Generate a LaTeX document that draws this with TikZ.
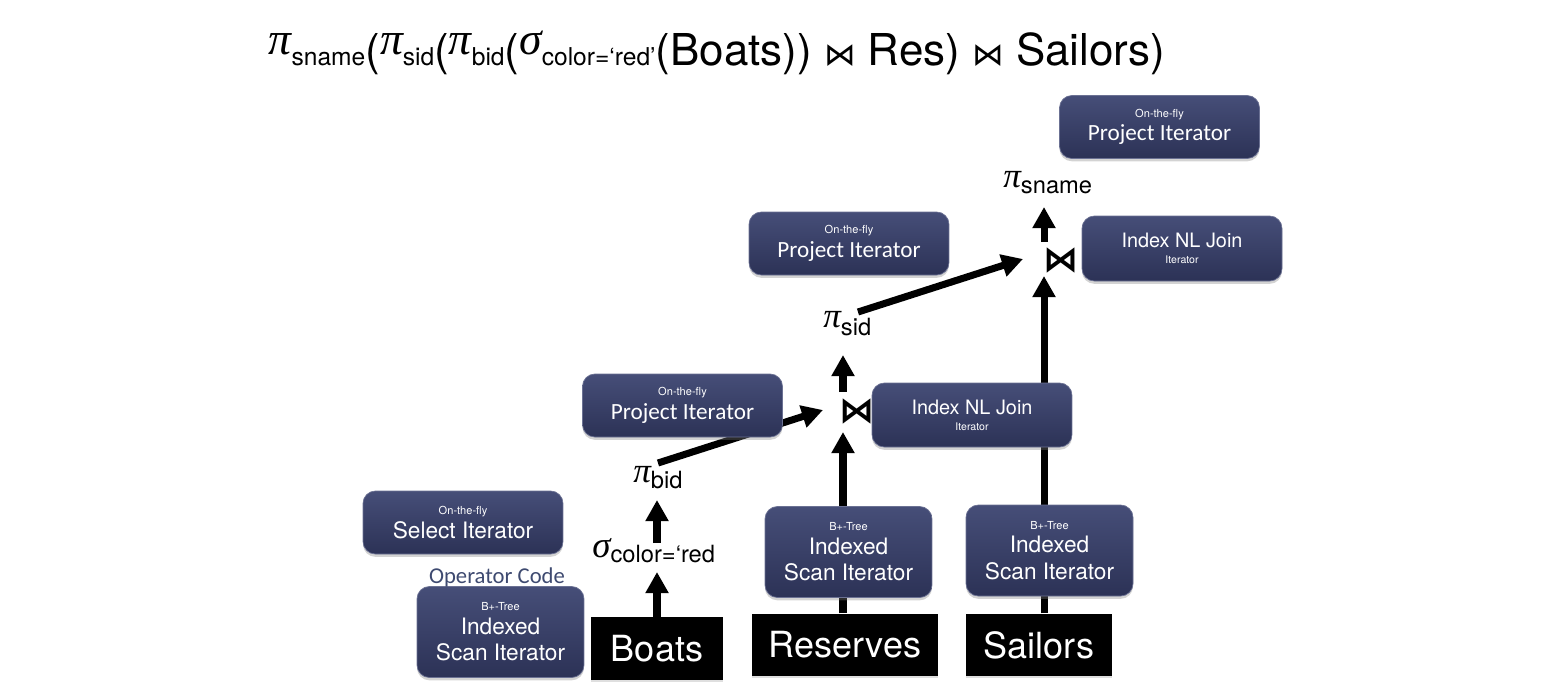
\documentclass[tikz,border=0pt]{standalone}
\usepackage{fontspec}
\setmainfont{TeX Gyre Heros}
\newfontfamily\carl{Carlito}
\newfontfamily\djv{DejaVu Sans}
\newfontfamily\grk{Liberation Serif}
\usetikzlibrary{arrows.meta,shadows}
\pgfdeclarelayer{background}
\pgfsetlayers{background,main}
\definecolor{boxtop}{RGB}{70,78,120}
\definecolor{boxbot}{RGB}{44,50,86}
\definecolor{opcode}{RGB}{62,74,112}
\newcommand\smtxt[1]{{\fontsize{6.3}{7}\selectfont #1}}
\newcommand\bigtxt[1]{{\fontsize{12.9}{15}\selectfont #1}}
\newcommand\jtxt[1]{{\fontsize{11.3}{12}\selectfont #1}}
\newcommand\cbtxt[1]{{\carl\fontsize{13.2}{15}\selectfont #1}}
\newcommand\gsym[3]{{\grk\itshape\fontsize{#1}{#1}\selectfont\raisebox{#2}{#3}}}
\newcommand\subt[1]{{\fontsize{13.5}{14}\selectfont #1}}
\newcommand\tsub[1]{{\fontsize{14}{14}\selectfont #1}}
\begin{document}
\begin{tikzpicture}[x=0.02cm,y=-0.02cm,
  iter/.style={rounded corners=7pt, top color=boxtop, bottom color=boxbot,
    draw=boxtop!80!white, line width=0.4pt, text=white, align=center,
    inner sep=0pt, minimum width=4cm, minimum height=1.26cm,
    font=\fontsize{12.9}{15.3}\selectfont,
    drop shadow={shadow xshift=0pt,shadow yshift=-1.6pt,opacity=0.35}},
  scanbox/.style={iter, minimum width=3.34cm, minimum height=1.82cm},
  rel/.style={fill=black, text=white, inner sep=0pt, minimum height=1.25cm,
    font=\fontsize{20.5}{24}\selectfont,
    drop shadow={shadow xshift=0pt,shadow yshift=-1.2pt,opacity=0.25}},
  flow/.style={line width=4pt, -{Triangle[width=12.5pt,length=12pt]}},
  joinsym/.style={inner sep=0pt, font=\djv\bfseries\fontsize{20}{20}\selectfont},
  opl/.style={anchor=base west, inner sep=0pt}
]
\useasboundingbox (0,0) rectangle (1544,698);

% title
\node[anchor=base, inner sep=0pt] (title) at (717,65) {\fontsize{25}{28}\selectfont
  \gsym{26}{5.8pt}{π}\tsub{sname}(\gsym{26}{5.8pt}{π}\tsub{sid}(\gsym{26}{5.8pt}{π}\tsub{bid}(\gsym{26}{5.8pt}{σ}\tsub{color=‘red’}(Boats)) {\djv\fontsize{18}{18}\selectfont ⋈} Res) {\djv\fontsize{18}{18}\selectfont ⋈} Sailors)};

% iterator boxes
\node[iter] (pTop) at (1159.5,127) {\smtxt{On-the-fly}\\[-2pt]\cbtxt{Project Iterator}};
\node[iter] (pMid) at (849,243.5) {\smtxt{On-the-fly}\\[-2pt]\cbtxt{Project Iterator}};
\node[iter, minimum height=1.3cm] (jTop) at (1182,248.5) {\jtxt{Index NL Join}\\[-6pt]{\fontsize{6}{7}\selectfont Iterator}};
\node[iter] (pLow) at (682.5,405.5) {\smtxt{On-the-fly}\\[-2pt]\cbtxt{Project Iterator}};
\node[iter, minimum height=1.28cm] (jLow) at (972,415) {\jtxt{Index NL Join}\\[-6pt]{\fontsize{6}{7}\selectfont Iterator}};
\node[iter] (sel) at (463,522.5) {\smtxt{On-the-fly}\\[-2pt]\bigtxt{Select Iterator}};
\node[scanbox] (scanB) at (500.5,632) {\smtxt{B+-Tree}\\[-2pt]Indexed\\Scan Iterator};
\node[scanbox] (scanR) at (848.5,552) {\smtxt{B+-Tree}\\[-2pt]Indexed\\Scan Iterator};
\node[scanbox] (scanS) at (1049.5,550.5) {\smtxt{B+-Tree}\\[-2pt]Indexed\\Scan Iterator};

\node[text=opcode, inner sep=0pt, font=\carl\fontsize{12.9}{15}\selectfont] (opc) at (497,577) {Operator Code};

% relations
\node[rel, minimum width=2.64cm] (Boats) at (657,648.5) {Boats};
\node[rel, minimum width=3.72cm] (Reserves) at (845,645) {Reserves};
\node[rel, minimum width=2.92cm] (Sailors) at (1039,645) {Sailors};

% operator labels
\node[opl] (sig) at (592,562) {\gsym{21}{2.8pt}{σ}\subt{color=‘red}};
\node[opl] (pibid) at (633,488) {\gsym{20}{3.4pt}{π}\subt{bid}};
\node[opl] (pisid) at (823,335) {\gsym{20}{4.5pt}{π}\subt{sid}};
\node[opl] (pisname) at (1003,193) {\gsym{20}{3.4pt}{π}\subt{sname}};
\node[joinsym] (jL) at (857,411) {⋈};
\node[joinsym] (jT) at (1061,260) {⋈};

% arrow end points
\coordinate (sigB) at (657,572);
\coordinate (sigT) at (657,543);
\coordinate (bidB) at (657,500);
\coordinate (bidR) at (658,463);
\coordinate (jLw) at (823,410);
\coordinate (jLs) at (843,432);
\coordinate (jLn) at (843,392);
\coordinate (sidS) at (843,355);
\coordinate (sidR) at (858,312);
\coordinate (jTw) at (1023,259);
\coordinate (jTs) at (1044,276);
\coordinate (jTn) at (1044,242);
\coordinate (snameS) at (1044,207);

\begin{pgfonlayer}{background}
\draw[flow] (Boats.north) -- (sigB);
\draw[flow] (sigT) -- (bidB);
\draw[flow] (bidR) -- (jLw);
\draw[flow] (Reserves.north -| jLs) -- (jLs);
\draw[flow] (jLn) -- (sidS);
\draw[flow] (sidR) -- (jTw);
\draw[flow] (Sailors.north -| jTs) -- (jTs);
\draw[flow] (jTn) -- (snameS);
\end{pgfonlayer}
\end{tikzpicture}
\end{document}
